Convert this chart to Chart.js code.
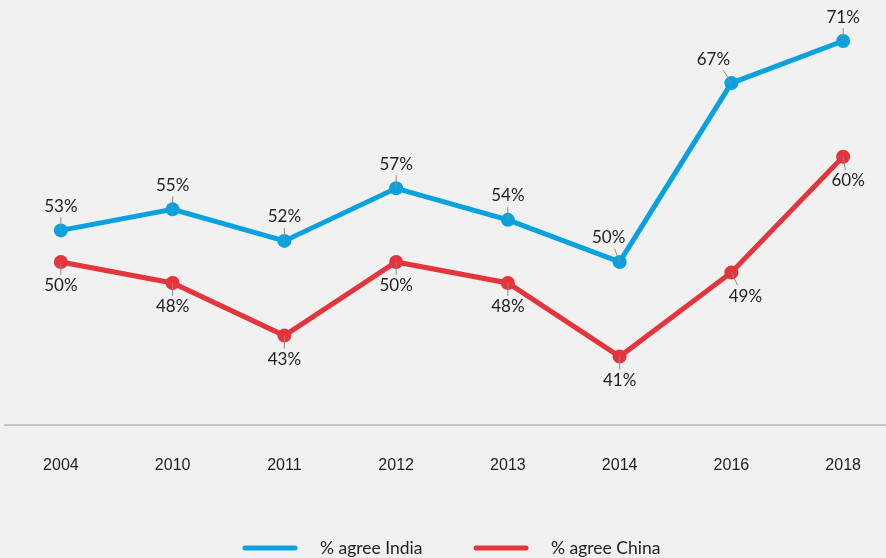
<!DOCTYPE html>
<html>
<head>
<meta charset="utf-8">
<script src="https://cdn.jsdelivr.net/npm/chart.js@4/dist/chart.umd.min.js"></script>
<style>
  html, body { margin: 0; padding: 0; background: #f1f1f1; overflow: hidden; }
  #lineChart { display: block; }
</style>
</head>
<body>
<canvas id="lineChart" width="900" height="558"></canvas>
<script>
const years = ["2004", "2010", "2011", "2012", "2013", "2014", "2016", "2018"];
const indiaValues = [53, 55, 52, 57, 54, 50, 67, 71];
const chinaValues = [50, 48, 43, 50, 48, 41, 49, 60];
const seriesNames = ["% agree India", "% agree China"];
const lineColors = ["#0aa2de", "#e4353d"];

// label nudges (x offset, px) for a few crowded points
const labelShift = [
  [0, 0, 0, 0, 0, -11, -18, 0],
  [0, 0, 0, 0, 0, 0, 14, 5]
];

// percentage labels with small leader lines
const pointLabels = {
  id: 'pointLabels',
  afterDatasetsDraw(chart) {
    const ctx = chart.ctx;
    ctx.save();
    ctx.font = '17px Lato';
    ctx.textAlign = 'center';
    ctx.textBaseline = 'middle';
    chart.data.datasets.forEach((ds, di) => {
      const meta = chart.getDatasetMeta(di);
      const dir = di === 0 ? -1 : 1;
      meta.data.forEach((pt, i) => {
        const dx = labelShift[di][i];
        const tx = pt.x + dx;
        const ty = pt.y + dir * 24;
        ctx.strokeStyle = '#8a8a8a';
        ctx.lineWidth = 1;
        ctx.beginPath();
        ctx.moveTo(pt.x, pt.y);
        ctx.lineTo(pt.x + dx * 0.45, pt.y + dir * 13);
        ctx.stroke();
        ctx.fillStyle = '#1e1e1e';
        ctx.fillText(ds.data[i] + '%', tx, ty);
      });
    });
    ctx.restore();
  }
};

// legend drawn as line swatches at the bottom
const bottomLegend = {
  id: 'bottomLegend',
  afterDraw(chart) {
    const ctx = chart.ctx;
    const starts = [243, 474];
    ctx.save();
    ctx.font = '17.5px Lato';
    ctx.textBaseline = 'middle';
    ctx.textAlign = 'left';
    seriesNames.forEach((name, i) => {
      ctx.strokeStyle = lineColors[i];
      ctx.lineWidth = 5;
      ctx.lineCap = 'round';
      ctx.beginPath();
      ctx.moveTo(starts[i] + 2, 548);
      ctx.lineTo(starts[i] + 52, 548);
      ctx.stroke();
      ctx.fillStyle = '#1e1e1e';
      ctx.fillText(name, starts[i] + 77, 548);
    });
    ctx.restore();
  }
};

new Chart(document.getElementById('lineChart'), {
  type: 'line',
  data: {
    labels: years,
    datasets: [
      {
        label: seriesNames[0],
        data: indiaValues,
        borderColor: lineColors[0],
        backgroundColor: lineColors[0],
        borderWidth: 5,
        pointRadius: 7,
        pointHoverRadius: 7,
        pointBorderWidth: 0
      },
      {
        label: seriesNames[1],
        data: chinaValues,
        borderColor: lineColors[1],
        backgroundColor: lineColors[1],
        borderWidth: 5,
        pointRadius: 7,
        pointHoverRadius: 7,
        pointBorderWidth: 0
      }
    ]
  },
  options: {
    responsive: false,
    animation: false,
    clip: false,
    layout: { autoPadding: false, padding: { left: 5, right: 1, top: 0, bottom: 0 } },
    scales: {
      x: {
        offset: true,
        grid: { display: false, drawTicks: false },
        border: { display: true, color: '#c6c6c6', width: 2 },
        ticks: {
          padding: 31,
          color: '#1e1e1e',
          font: { family: 'Liberation Sans', size: 16 }
        },
        afterFit(scale) { scale.height = 133; }
      },
      y: {
        display: false,
        min: 34.5,
        max: 74.9
      }
    },
    plugins: {
      legend: { display: false },
      tooltip: { enabled: false }
    }
  },
  plugins: [pointLabels, bottomLegend]
});
</script>
</body>
</html>
